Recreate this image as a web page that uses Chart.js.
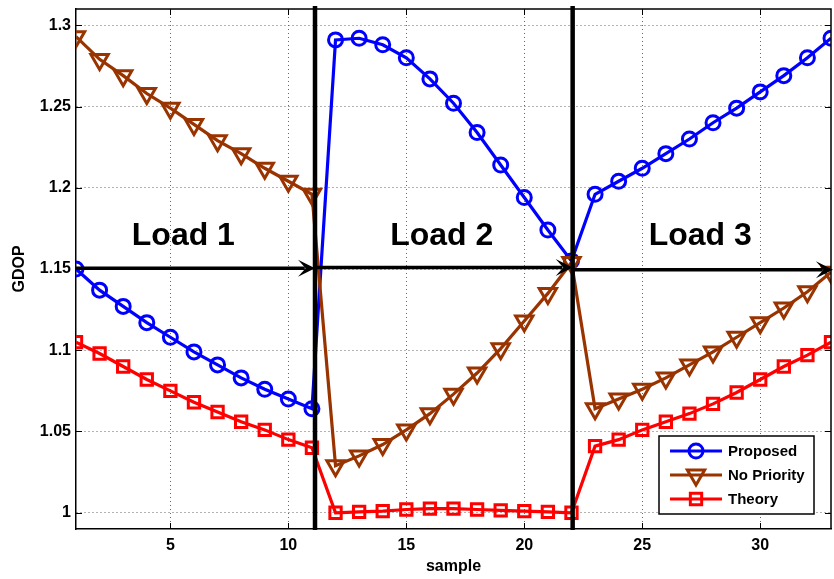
<!DOCTYPE html>
<html><head><meta charset="utf-8">
<script src="https://cdn.jsdelivr.net/npm/chart.js@4.4.1/dist/chart.umd.min.js"></script>
<style>html,body{margin:0;padding:0;background:#fff;}#wrap{width:834px;height:579px;position:relative;}</style>
</head><body><div id="wrap"><canvas id="c" width="834" height="579"></canvas></div>
<script>
// ---- data ----
const samples = [1,2,3,4,5,6,7,8,9,10,11,12,13,14,15,16,17,18,19,20,21,22,23,24,25,26,27,28,29,30,31,32,33];
const proposed = [1.150,1.137,1.127,1.117,1.108,1.099,1.091,1.083,1.076,1.070,1.064,
                  1.291,1.292,1.288,1.280,1.267,1.252,1.234,1.214,1.194,1.174,1.155,
                  1.196,1.204,1.212,1.221,1.230,1.240,1.249,1.259,1.269,1.280,1.292];
const noPriority = [1.293,1.279,1.269,1.258,1.249,1.239,1.229,1.221,1.212,1.204,1.196,
                    1.029,1.035,1.042,1.051,1.061,1.073,1.086,1.101,1.118,1.135,1.154,
                    1.064,1.070,1.076,1.083,1.091,1.099,1.108,1.117,1.126,1.136,1.148];
const theory = [1.105,1.098,1.090,1.082,1.075,1.068,1.062,1.056,1.051,1.045,1.040,
                1.000,1.0005,1.001,1.002,1.0025,1.0025,1.002,1.0015,1.001,1.0005,1.000,
                1.041,1.045,1.051,1.056,1.061,1.067,1.074,1.082,1.090,1.097,1.105];
const seriesNames = ['Proposed','No Priority','Theory'];
const xTicks = [5,10,15,20,25,30];
const yTicks = [1,1.05,1.1,1.15,1.2,1.25,1.3];
const yTickLabels = ['1','1.05','1.1','1.15','1.2','1.25','1.3'];
const dividers = [11.13, 22.05];
const arrows = [[1, 1.1505, 11.13, 1.1505],[11.13, 1.151, 22.05, 1.151],[22.05, 1.1495, 33.08, 1.1495]];
const loadNames = ['Load 1','Load 2','Load 3'];
const loadX = [5.55, 16.5, 27.46];
const loadY = 1.165;

// ---- chart ----
const FONT = '"Liberation Sans", Arial, Helvetica, sans-serif';
const pts = arr => samples.map((s,i)=>({x:s,y:arr[i]}));

const overlay = {
  id:'overlay',
  afterDatasetsDraw(chart){
    const {ctx, chartArea:a, scales:{x,y}} = chart;
    ctx.save();
    ctx.strokeStyle='#000'; ctx.lineWidth=4.5;
    dividers.forEach(v=>{const px=x.getPixelForValue(v);ctx.beginPath();ctx.moveTo(px,a.top-3);ctx.lineTo(px,a.bottom+1);ctx.stroke();});
    arrows.forEach(([x0,y0,x1,y1])=>{
      const px0=x.getPixelForValue(x0), py0=y.getPixelForValue(y0), px1=x.getPixelForValue(x1), py1=y.getPixelForValue(y1);
      const L=17, W=8.5;
      ctx.lineWidth=3.5; ctx.strokeStyle='#000'; ctx.fillStyle='#000';
      ctx.beginPath(); ctx.moveTo(px0,py0); ctx.lineTo(px1-L*0.6,py1); ctx.stroke();
      ctx.beginPath(); ctx.moveTo(px1,py1); ctx.lineTo(px1-L,py1-W); ctx.lineTo(px1-L*0.55,py1); ctx.lineTo(px1-L,py1+W); ctx.closePath(); ctx.fill();
    });
    ctx.fillStyle='#000'; ctx.font='bold 32px '+FONT; ctx.textAlign='center'; ctx.textBaseline='alphabetic';
    loadNames.forEach((t,i)=>ctx.fillText(t, x.getPixelForValue(loadX[i]), y.getPixelForValue(loadY)));
    ctx.restore();
  },
  afterDraw(chart){
    const {ctx, chartArea:a, scales:{x,y}} = chart;
    ctx.save();
    ctx.strokeStyle='#000'; ctx.lineWidth=1.5;
    ctx.beginPath(); ctx.moveTo(a.left,a.top); ctx.lineTo(a.right,a.top); ctx.lineTo(a.right,a.bottom); ctx.stroke();
    const tl=6; ctx.lineWidth=1;
    xTicks.forEach(v=>{const px=Math.round(x.getPixelForValue(v))+0.5;ctx.beginPath();ctx.moveTo(px,a.bottom);ctx.lineTo(px,a.bottom-tl);ctx.moveTo(px,a.top);ctx.lineTo(px,a.top+tl);ctx.stroke();});
    yTicks.forEach(v=>{const py=Math.round(y.getPixelForValue(v))+0.5;ctx.beginPath();ctx.moveTo(a.left,py);ctx.lineTo(a.left+tl,py);ctx.moveTo(a.right,py);ctx.lineTo(a.right-tl,py);ctx.stroke();});
    // legend
    const bx=a.right-172, by=a.bottom-93, bw=155, bh=78;
    ctx.fillStyle='#fff'; ctx.fillRect(bx,by,bw,bh);
    ctx.strokeStyle='#000'; ctx.lineWidth=1.5; ctx.strokeRect(bx,by,bw,bh);
    chart.data.datasets.forEach((ds,i)=>{
      const cy=by+15+i*24, lx0=bx+11, lx1=bx+63, mx=bx+37;
      ctx.strokeStyle=ds.borderColor; ctx.lineWidth=3;
      ctx.beginPath(); ctx.moveTo(lx0,cy); ctx.lineTo(lx1,cy); ctx.stroke();
      ctx.lineWidth=ds.pointBorderWidth;
      const r=ds.pointRadius;
      ctx.beginPath();
      if(ds.pointStyle==='circle'){ctx.arc(mx,cy,r,0,Math.PI*2);}
      else if(ds.pointStyle==='triangle'){for(let k=0;k<3;k++){const ang=Math.PI+k*2*Math.PI/3;const px=mx+Math.sin(ang)*r, py=cy-Math.cos(ang)*r; if(k===0)ctx.moveTo(px,py);else ctx.lineTo(px,py);}ctx.closePath();}
      else {const s=r*Math.SQRT1_2;ctx.rect(mx-s,cy-s,2*s,2*s);}
      ctx.stroke();
      ctx.fillStyle='#000'; ctx.font='bold 15px '+FONT; ctx.textAlign='left'; ctx.textBaseline='middle';
      ctx.fillText(ds.label, bx+69, cy+1);
    });
    ctx.restore();
  }
};

const tickFont = {family:FONT, size:16, weight:'bold'};
new Chart(document.getElementById('c'), {
  type:'line',
  data:{datasets:[
    {label:seriesNames[0], data:pts(proposed), borderColor:'#0000ff', backgroundColor:'rgba(0,0,0,0)', borderWidth:3.2,
     pointStyle:'circle', pointRadius:7, pointBorderWidth:3, pointBackgroundColor:'rgba(0,0,0,0)', pointBorderColor:'#0000ff', order:3},
    {label:seriesNames[1], data:pts(noPriority), borderColor:'#993300', backgroundColor:'rgba(0,0,0,0)', borderWidth:3.2,
     pointStyle:'triangle', pointRotation:180, pointRadius:10, pointBorderWidth:3, pointBackgroundColor:'rgba(0,0,0,0)', pointBorderColor:'#993300', order:2},
    {label:seriesNames[2], data:pts(theory), borderColor:'#ff0000', backgroundColor:'rgba(0,0,0,0)', borderWidth:3.2,
     pointStyle:'rect', pointRadius:8, pointBorderWidth:3, pointBackgroundColor:'rgba(0,0,0,0)', pointBorderColor:'#ff0000', order:1}
  ]},
  options:{
    responsive:false, animation:false, devicePixelRatio:1,
    layout:{autoPadding:false, padding:{top:9,right:3,left:0,bottom:0}},
    plugins:{legend:{display:false}, tooltip:{enabled:false}},
    elements:{line:{tension:0}},
    scales:{
      x:{type:'linear', min:1, max:33,
        afterBuildTicks:s=>{s.ticks=xTicks.map(v=>({value:v}));},
        ticks:{font:tickFont, color:'#000', padding:7, maxRotation:0, autoSkip:false},
        grid:{color:'#666', lineWidth:1, drawTicks:false},
        border:{display:true, color:'#000', width:1.5, dash:[1,3]},
        title:{display:true, text:'sample', font:tickFont, color:'#000', padding:{top:0,bottom:2.4}},
        afterFit:s=>{s.height=50; s.paddingLeft=0; s.paddingRight=0;}
      },
      y:{type:'linear', min:0.99, max:1.31,
        afterBuildTicks:s=>{s.ticks=yTicks.map(v=>({value:v}));},
        ticks:{font:tickFont, color:'#000', padding:5, callback:(v,i)=>yTickLabels[i]},
        grid:{color:'#666', lineWidth:1, drawTicks:false},
        border:{display:true, color:'#000', width:1.5, dash:[1,3]},
        title:{display:true, text:'GDOP', font:tickFont, color:'#000', padding:{top:10,bottom:0}},
        afterFit:s=>{s.width=76; s.paddingTop=0; s.paddingBottom=0;}
      }
    }
  },
  plugins:[overlay]
});
</script></body></html>
